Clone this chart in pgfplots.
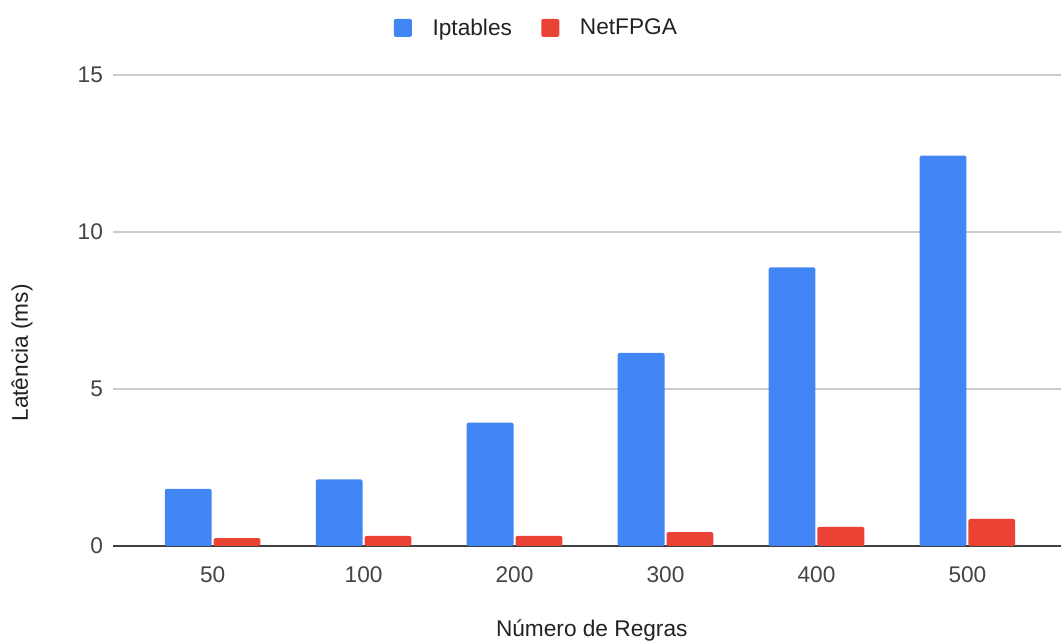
\documentclass[border=0pt]{standalone}
\usepackage{fontspec}
\setmainfont{Liberation Sans}
\usepackage{pgfplots}
\pgfplotsset{compat=1.18}
\definecolor{gblue}{HTML}{4285F4}
\definecolor{gred}{HTML}{EA4335}
\definecolor{txt}{HTML}{222222}
\definecolor{tick}{HTML}{444444}
\begin{document}
\begin{tikzpicture}
\path[use as bounding box] (0,0) rectangle (795.75pt,481.5pt);
\begin{axis}[
  at={(84.75pt,72pt)}, anchor=south west,
  scale only axis, width=711pt, height=353.25pt,
  font=\fontsize{17}{20}\selectfont,
  ybar=1.5pt, bar width=0.31,
  xmin=-0.66, xmax=5.62,
  ymin=0, ymax=15,
  xtick=data,
  xticklabels={50,100,200,300,400,500},
  ytick={5,10,15},
  extra y ticks={0},
  extra y tick style={grid style={draw=black!75, line width=1pt}},
  major tick length=0pt,
  axis line style={draw=none},
  ymajorgrids,
  grid style={draw=black!20, line width=0.8pt},
  /pgf/number format/assume math mode=true,
  ticklabel style={text=tick},
  xticklabel style={yshift=-12pt},
  yticklabel style={xshift=-4pt},
  xlabel={Número de Regras},
  ylabel={Latência (ms)},
  label style={text=txt},
  xlabel style={at={(axis description cs:0.505,-0.18)}, anchor=center},
  ylabel style={at={(axis description cs:-0.096,0.41)}, anchor=center},
  legend columns=2,
  legend style={draw=none, fill=none, at={(axis description cs:0.447,1.1)}, anchor=center,
    text=txt, font=\fontsize{17}{20}\selectfont,
    /tikz/every odd column/.append style={column sep=13.5pt},
    /tikz/every even column/.append style={column sep=20pt}},
  legend image code/.code={\fill[#1, rounded corners=1.5pt] (0pt,-6.75pt) rectangle (13.5pt,6.75pt);},
]
\addplot[fill=gblue, draw=none, rounded corners=1.5pt] coordinates {(0,1.82) (1,2.12) (2,3.93) (3,6.15) (4,8.87) (5,12.43)};
\addplot[fill=gred, draw=none, rounded corners=1.5pt] coordinates {(0,0.25) (1,0.32) (2,0.32) (3,0.44) (4,0.61) (5,0.86)};
\legend{Iptables, NetFPGA}
\end{axis}
\end{tikzpicture}
\end{document}
